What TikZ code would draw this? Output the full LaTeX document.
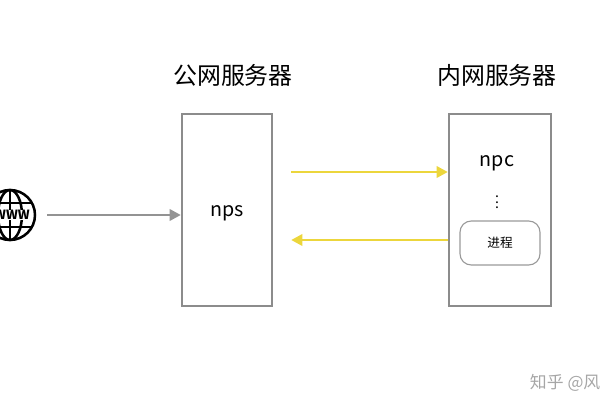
\documentclass[tikz,border=0pt]{standalone}
\usepackage{fontspec}
\setmainfont{Noto Sans CJK SC}
\usetikzlibrary{arrows.meta}
\definecolor{syncyellow}{RGB}{236,214,60}
\tikzset{
  server/.style={draw=gray!90,line width=1.6pt,minimum width=2.2cm,minimum height=4.8cm},
  feed/.style={draw=gray!85,line width=2pt,-{Triangle[length=8pt,width=8pt]}},
  sync/.style={draw=syncyellow,line width=2pt,-{Triangle[length=8pt,width=8pt]}},
  title/.style={font=\fontsize{17}{20}\selectfont},
}
\begin{document}
\begin{tikzpicture}[x=0.025cm,y=-0.025cm]
        \useasboundingbox (0,0) rectangle (600,400);
        \clip (0,0) rectangle (600,400);

        \node[server,minimum width=2.25cm] (nps) at (227,210) {};
        \node[server,minimum width=2.55cm] (npc) at (500,210) {};
        \node[title] (pubt) at (233,75) {公网服务器};
        \node[title] (prit) at (497,75) {内网服务器};

        \node[font=\fontsize{14}{16}\selectfont] (npsl) at (227,213) {nps};
        \node[font=\fontsize{14}{16}\selectfont] (npcl) at (497,163) {npc};
        \node (dots) at (497,198) {$\vdots$};
        \node[draw=gray!80,line width=0.8pt,rounded corners=8pt,minimum width=2cm,minimum height=1.1cm,font=\small] (proc) at (500,243) {进程};

        % globe
        \begin{scope}[line width=1.8pt]
        \draw (10,215) circle (25);
        \draw (10,215) ellipse (12 and 25);
        \draw (10,190) -- (10,240);
        \draw (-12,203) -- (32,203);
        \draw (-12,227) -- (32,227);
        \end{scope}
        \node[fill=white,inner sep=0.5pt,font=\small\bfseries] (www) at (12,215) {WWW};
        \coordinate (web) at (47,215);

        \draw[feed] (web) -- (nps.west |- web);
        \draw[sync] ([xshift=0.45cm]nps.east |- 0,172) -- (npc.west |- 0,172);
        \draw[sync] (npc.west |- 0,240) -- ([xshift=0.45cm]nps.east |- 0,240);

        \node[anchor=west,text=gray!70,font=\large] (mark) at (525,383) {知乎 @风一样的};
\end{tikzpicture}
\end{document}
